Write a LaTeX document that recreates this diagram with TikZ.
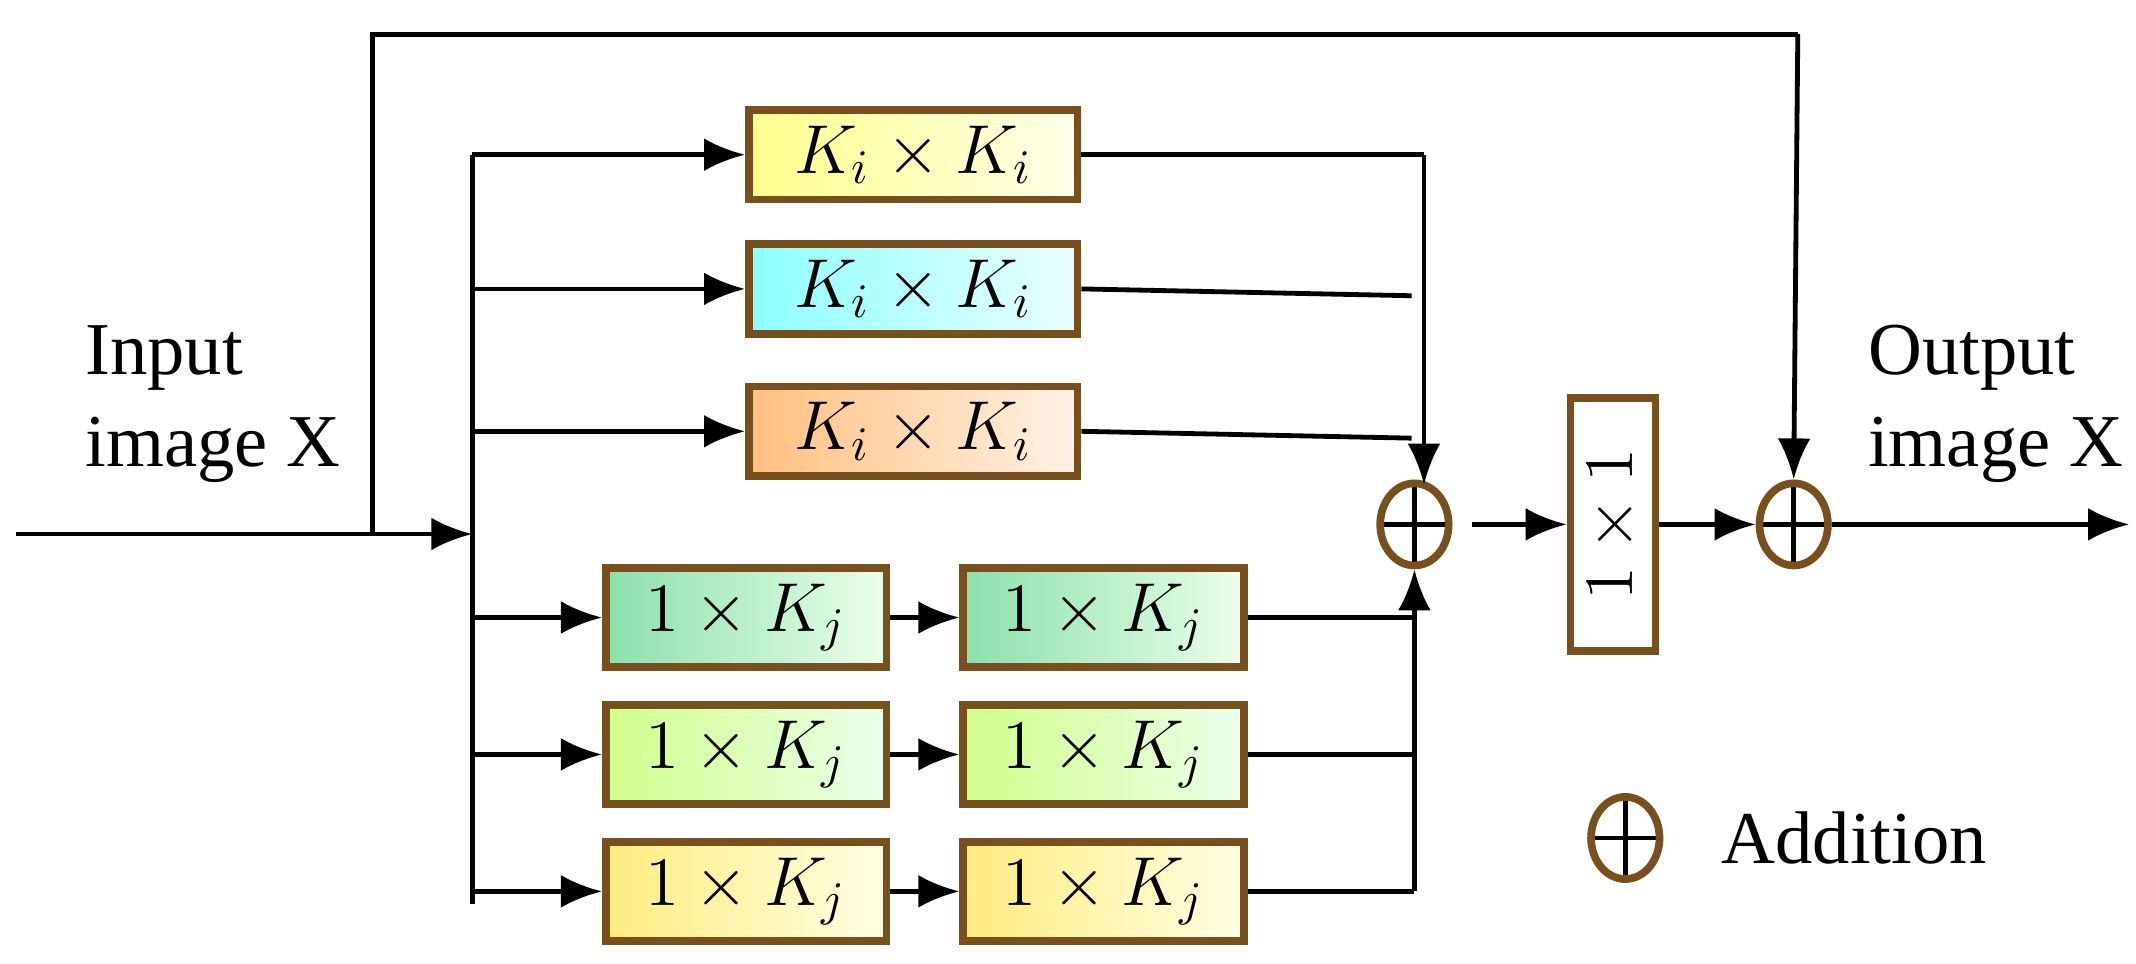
\documentclass[tikz,border=0pt]{standalone}
\usepackage{fontspec}
\setmainfont{Liberation Serif}
\usetikzlibrary{shapes.geometric,arrows.meta}
\definecolor{frame}{RGB}{120,80,30}
\tikzset{
  blk/.style={draw=frame, line width=1.6pt, minimum width=24mm, minimum height=6.4mm,
    font=\fontsize{14}{16}\selectfont},
  sblk/.style={blk, minimum width=20.5mm, minimum height=5.6mm},
  add/.style={draw=frame, line width=1.6pt, ellipse, minimum width=5mm, minimum height=6mm,
    path picture={\draw[black, line width=1pt]
      (path picture bounding box.north) -- (path picture bounding box.south)
      (path picture bounding box.west) -- (path picture bounding box.east);}},
  lbl/.style={font=\fontsize{15.5}{19}\selectfont, align=left},
  con/.style={line width=1pt},
  arr/.style={con, -{Latex[length=3mm,width=2.4mm]}}
}
\begin{document}
\begin{tikzpicture}[x=0.1mm,y=-0.1mm]
\useasboundingbox (0,0) rectangle (1560,704);

% parallel branches
\node[blk, left color=yellow!45, right color=yellow!8] (k1) at (667,113) {$K_i\times K_i$};
\node[blk, left color=cyan!45, right color=cyan!8] (k2) at (667,211) {$K_i\times K_i$};
\node[blk, left color=orange!50, right color=orange!10] (k3) at (667,315) {$K_i\times K_i$};

\node[sblk, left color=green!45!teal!45, right color=green!8] (a1) at (545,451) {$1\times K_j$};
\node[sblk, left color=green!45!teal!45, right color=green!8] (b1) at (806,451) {$1\times K_j$};
\node[sblk, left color=green!40!yellow!45, right color=green!8] (a2) at (545,551) {$1\times K_j$};
\node[sblk, left color=green!40!yellow!45, right color=green!8] (b2) at (806,551) {$1\times K_j$};
\node[sblk, left color=orange!30!yellow!50, right color=yellow!10] (a3) at (545,651) {$1\times K_j$};
\node[sblk, left color=orange!30!yellow!50, right color=yellow!10] (b3) at (806,651) {$1\times K_j$};

\node[add] (s1) at (1033,383) {};
\node[draw=frame, line width=1.6pt, minimum width=6.2mm, minimum height=18.5mm,
  font=\fontsize{14}{16}\selectfont] (c1) at (1178,383) {\rotatebox{90}{$1\times1$}};
\node[add] (s2) at (1310,383) {};

% labels
\node[lbl, anchor=west] (in) at (50,295) {Input\\image X};
\node[lbl, anchor=west] (out) at (1352,295) {Output\\image X};
\node[add] (leg) at (1187,612) {};
\node[lbl, anchor=west] (legt) at (1245,612) {Addition};

% input and split
\coordinate (x0) at (12,390);
\coordinate (xs) at (345,390);
\coordinate (xb) at (272,390);
\coordinate (xt) at (345,113);
\coordinate (xd) at (345,660);
\coordinate (o1) at (1555,383);
\draw[arr] (x0) -- (xs);
\draw[con] (xt) -- (xd);
\draw[con] (xb) -- (272,25) -- (1313,25) coordinate (tp);
\draw[arr] (tp) -- (s2.north);

\foreach \n in {k1,k2,k3,a1,a2,a3}
  \draw[arr] (xt |- \n) -- (\n.west);
\foreach \n in {1,2,3}
  \draw[arr] (a\n) -- (b\n);

% merge
\draw[con] (k1.east) -- (1040,113);
\draw[arr] (1040,113) -- (1040,354);
\draw[con] (k2.east) -- (1031,216);
\draw[con] (k3.east) -- (1031,320);
\foreach \n in {1,2,3}
  \draw[con] (b\n.east) -- (1033,\n*100+351);
\draw[arr] (1033,651) -- (s1.south);

\draw[arr] (1075,383) -- (c1.west);
\draw[arr] (c1.east) -- (s2.west);
\draw[arr] (s2.east) -- (o1);
\end{tikzpicture}
\end{document}
